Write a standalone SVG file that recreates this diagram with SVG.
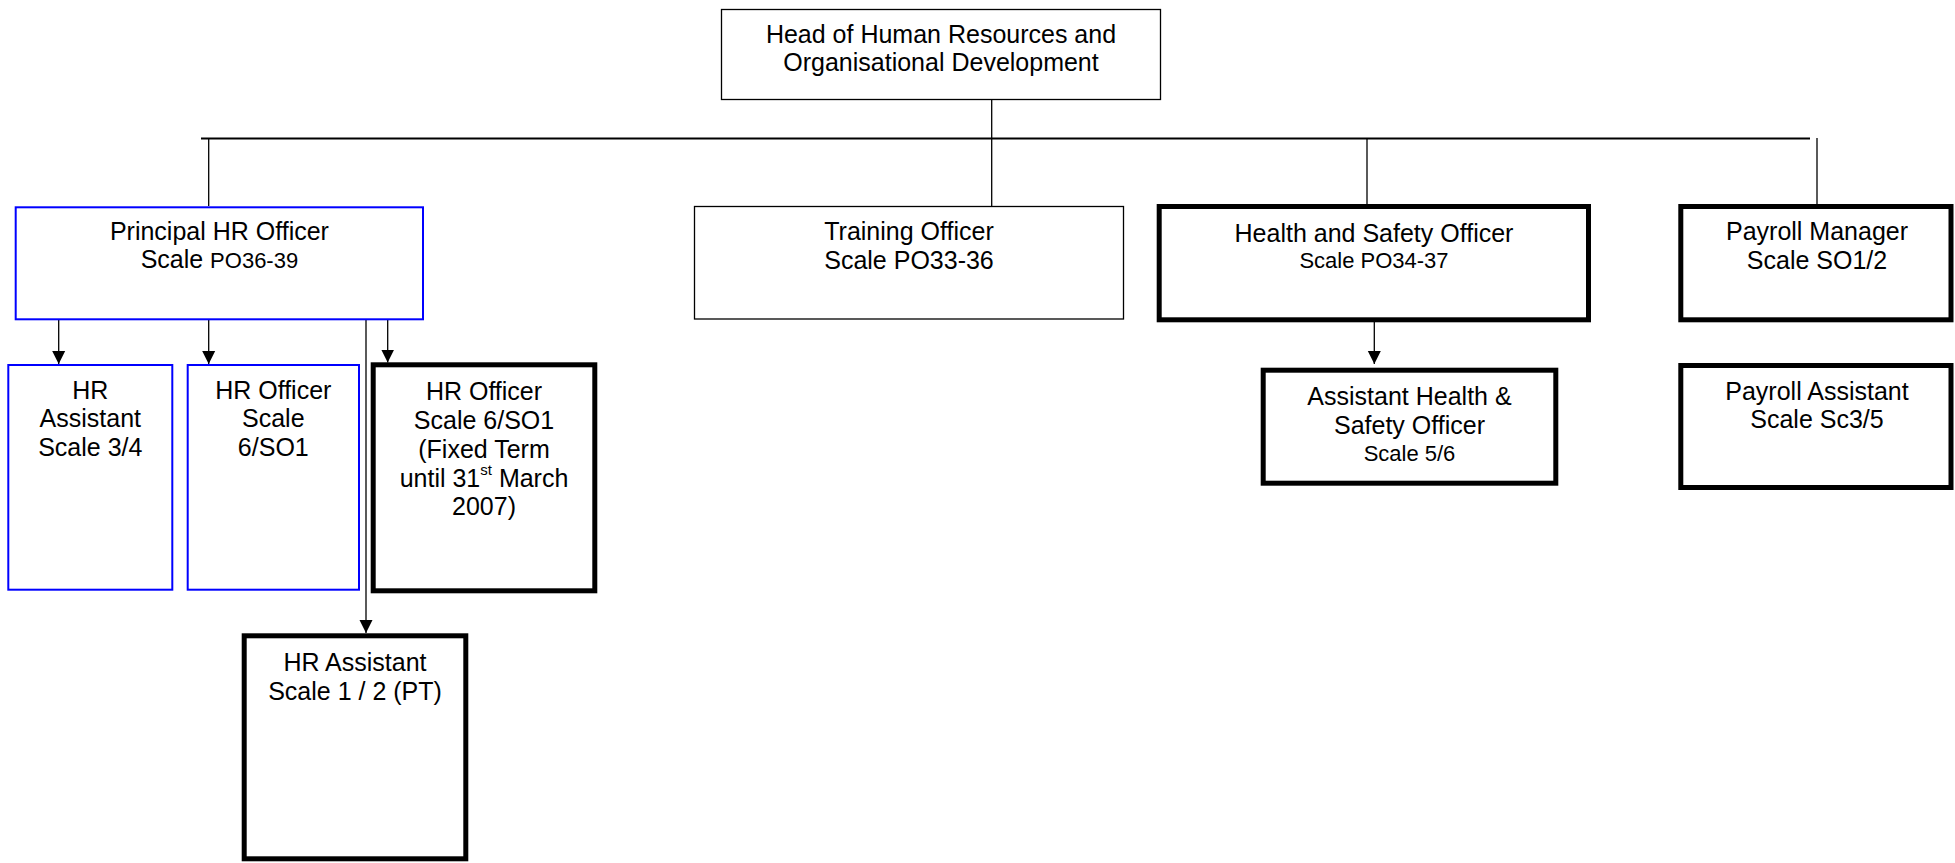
<svg xmlns="http://www.w3.org/2000/svg" width="1955" height="863" viewBox="0 0 1955 863">
  <style>
    .bg { fill: #ffffff; }
    .thin { fill: #ffffff; stroke: #000000; stroke-width: 1.3; }
    .blue { fill: #ffffff; stroke: #0000ff; stroke-width: 2; }
    .thick { fill: #ffffff; stroke: #000000; stroke-width: 5; }
    .lbl { font-family: "Liberation Sans", Arial, sans-serif; font-size: 25px; fill: #000000; text-anchor: middle; }
    .sm { font-size: 22px; }
    .sup { font-size: 15px; }
    .wire { fill: none; stroke: #000000; stroke-width: 1.3; }
    .bus { fill: none; stroke: #000000; stroke-width: 2; }
    .arrow { fill: none; stroke: #000000; stroke-width: 1.3; marker-end: url(#head); }
  </style>
  <defs>
    <marker id="head" markerUnits="userSpaceOnUse" markerWidth="14" markerHeight="14" refX="13" refY="7" orient="auto">
      <path d="M0,0.5 L13,7 L0,13.5 z" fill="#000000"/>
    </marker>
  </defs>

  <rect class="bg" x="0" y="0" width="1955" height="863"/>

  <!-- reporting lines -->
  <g id="connectors">
    <line class="bus" x1="201" y1="138.5" x2="1810" y2="138.5"/>
    <line class="wire" x1="991.7" y1="100" x2="991.7" y2="212"/>
    <line class="wire" x1="208.7" y1="138" x2="208.7" y2="206"/>
    <line class="wire" x1="1367" y1="138" x2="1367" y2="204"/>
    <line class="wire" x1="1817" y1="138" x2="1817" y2="204"/>
    <line class="arrow" x1="58.7" y1="320" x2="58.7" y2="364"/>
    <line class="arrow" x1="208.7" y1="320" x2="208.7" y2="364"/>
    <line class="arrow" x1="387.7" y1="320" x2="387.7" y2="362.5"/>
    <line class="arrow" x1="366" y1="320" x2="366" y2="633"/>
    <line class="arrow" x1="1374.3" y1="322" x2="1374.3" y2="364"/>
  </g>

  <g id="head-hr-od">
    <rect class="thin" x="721.5" y="9.5" width="439" height="90"/>
    <text class="lbl" x="941" y="43.3">Head of Human Resources and</text>
    <text class="lbl" x="941" y="71.3">Organisational Development</text>
  </g>

  <g id="principal-hr-officer">
    <rect class="blue" x="15.7" y="207.3" width="407.3" height="112"/>
    <text class="lbl" x="219.4" y="240">Principal HR Officer</text>
    <text class="lbl" x="219.4" y="268.3">Scale <tspan class="sm">PO36-39</tspan></text>
  </g>

  <g id="training-officer">
    <rect class="thin" x="694.5" y="206.5" width="429" height="112.5"/>
    <text class="lbl" x="909" y="240">Training Officer</text>
    <text class="lbl" x="909" y="269">Scale PO33-36</text>
  </g>

  <g id="health-safety-officer">
    <rect class="thick" x="1159.2" y="206.5" width="429.3" height="113.3"/>
    <text class="lbl" x="1374" y="241.7">Health and Safety Officer</text>
    <text class="lbl sm" x="1374" y="267.7">Scale PO34-37</text>
  </g>

  <g id="payroll-manager">
    <rect class="thick" x="1680.8" y="206.5" width="270.2" height="113.3"/>
    <text class="lbl" x="1817" y="240">Payroll Manager</text>
    <text class="lbl" x="1817" y="269.3">Scale SO1/2</text>
  </g>

  <g id="hr-assistant">
    <rect class="blue" x="8.3" y="365" width="164" height="224.7"/>
    <text class="lbl" x="90.3" y="399">HR</text>
    <text class="lbl" x="90.3" y="427">Assistant</text>
    <text class="lbl" x="90.3" y="456">Scale 3/4</text>
  </g>

  <g id="hr-officer">
    <rect class="blue" x="187.7" y="365" width="171.3" height="224.7"/>
    <text class="lbl" x="273.3" y="399">HR Officer</text>
    <text class="lbl" x="273.3" y="427">Scale</text>
    <text class="lbl" x="273.3" y="456">6/SO1</text>
  </g>

  <g id="hr-officer-fixed-term">
    <rect class="thick" x="373.2" y="364.8" width="221.6" height="226"/>
    <text class="lbl" x="484" y="400">HR Officer</text>
    <text class="lbl" x="484" y="429">Scale 6/SO1</text>
    <text class="lbl" x="484" y="457.5">(Fixed Term</text>
    <text class="lbl" x="484" y="486.5">until 31<tspan class="sup" dy="-12">st</tspan><tspan dy="12"> March</tspan></text>
    <text class="lbl" x="484" y="514.5">2007)</text>
  </g>

  <g id="hr-assistant-pt">
    <rect class="thick" x="244.2" y="635.8" width="221.6" height="223"/>
    <text class="lbl" x="355" y="671">HR Assistant</text>
    <text class="lbl" x="355" y="700">Scale 1 / 2 (PT)</text>
  </g>

  <g id="assistant-health-safety-officer">
    <rect class="thick" x="1263.2" y="370.2" width="292.6" height="113"/>
    <text class="lbl" x="1409.5" y="405">Assistant Health &amp;</text>
    <text class="lbl" x="1409.5" y="434.3">Safety Officer</text>
    <text class="lbl sm" x="1409.5" y="460.7">Scale 5/6</text>
  </g>

  <g id="payroll-assistant">
    <rect class="thick" x="1680.8" y="365.5" width="270.2" height="122"/>
    <text class="lbl" x="1817" y="400">Payroll Assistant</text>
    <text class="lbl" x="1817" y="428.3">Scale Sc3/5</text>
  </g>
</svg>
